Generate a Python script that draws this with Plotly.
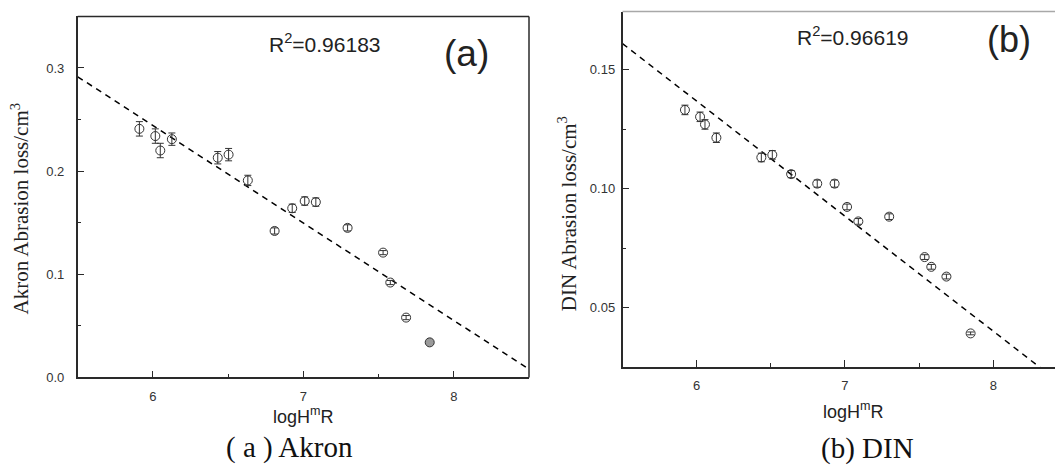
import plotly.graph_objects as go

# ---------------- data ----------------
# Panel (a) Akron
akron_x = [5.91, 6.016, 6.049, 6.126, 6.431, 6.503, 6.631, 6.809, 6.926, 7.009, 7.083, 7.294, 7.530, 7.578, 7.683, 7.840]
akron_y = [0.241, 0.234, 0.220, 0.231, 0.213, 0.216, 0.191, 0.142, 0.164, 0.171, 0.170, 0.145, 0.121, 0.092, 0.058, 0.034]
akron_err = [0.007, 0.007, 0.007, 0.006, 0.006, 0.006, 0.005, 0.003, 0.004, 0.004, 0.004, 0.003, 0.002, 0.002, 0.002, 0.001]
akron_fit_x = [5.5, 8.5]
akron_fit_y = [0.2915, 0.0080]
akron_r2 = "R<sup>2</sup>=0.96183"
akron_yticks = [0.0, 0.1, 0.2, 0.3]
akron_yticklabels = ["0.0", "0.1", "0.2", "0.3"]

# Panel (b) DIN
din_x = [5.921, 6.023, 6.056, 6.133, 6.436, 6.510, 6.637, 6.813, 6.930, 7.014, 7.090, 7.298, 7.537, 7.582, 7.684, 7.847]
din_y = [0.1331, 0.1302, 0.1270, 0.1214, 0.1131, 0.1142, 0.1061, 0.1021, 0.1021, 0.0923, 0.0862, 0.0882, 0.0712, 0.0671, 0.0630, 0.0391]
din_err = [0.002, 0.002, 0.002, 0.002, 0.0018, 0.0018, 0.0015, 0.0015, 0.0015, 0.0012, 0.0012, 0.0012, 0.001, 0.001, 0.001, 0.0006]
din_fit_x = [5.5, 8.5]
din_fit_y = [0.1610, 0.0158]
din_r2 = "R<sup>2</sup>=0.96619"
din_yticks = [0.05, 0.10, 0.15]
din_yticklabels = ["0.05", "0.10", "0.15"]

x_ticks = [6, 7, 8]
x_ticklabels = ["6", "7", "8"]
x_title = "logH<sup>m</sup>R"

# ---------------- figure ----------------
W, H = 1055, 468
SANS = "Liberation Sans, Arial, sans-serif"
SERIF = "Liberation Serif, Times New Roman, serif"
AX = "#2a2a2a"
MK = "#333333"
TICKC = "#333333"

def px(x):
    return x / W

def py(y):
    return 1 - y / H

A_X0, A_X1, A_Y0, A_Y1 = 77.7, 529, 384, 16.7
B_X0, B_Y0, B_Y1 = 622.5, 373.3, 11.7

fig = go.Figure()

# Panel (a)
fig.add_trace(go.Scatter(
    x=akron_fit_x, y=akron_fit_y, mode="lines",
    line=dict(color="black", width=1.5, dash="6px,5px"),
    xaxis="x", yaxis="y", showlegend=False, hoverinfo="skip"))
fill_a = ["rgba(0,0,0,0)"] * (len(akron_x) - 1) + ["#9a9a9a"]
fig.add_trace(go.Scatter(
    x=akron_x, y=akron_y, mode="markers",
    marker=dict(symbol="circle", size=9, color=fill_a, line=dict(color=MK, width=1)),
    error_y=dict(type="data", array=akron_err, visible=True, color=MK, thickness=1, width=3.5),
    xaxis="x", yaxis="y", showlegend=False))

# Panel (b)
fig.add_trace(go.Scatter(
    x=din_fit_x, y=din_fit_y, mode="lines",
    line=dict(color="black", width=1.5, dash="6px,5px"),
    xaxis="x2", yaxis="y2", showlegend=False, hoverinfo="skip"))
fig.add_trace(go.Scatter(
    x=din_x, y=din_y, mode="markers",
    marker=dict(symbol="circle-open", size=9, color=MK, line=dict(color=MK, width=1)),
    error_y=dict(type="data", array=din_err, visible=True, color=MK, thickness=1, width=3.5),
    xaxis="x2", yaxis="y2", showlegend=False))

tickfont = dict(family=SANS, size=13, color=TICKC)

common_x = dict(
    ticks="inside", ticklen=7, tickwidth=1.2, tickcolor=AX,
    showline=True, linecolor=AX, linewidth=1.5, showgrid=False, zeroline=False,
    tickmode="array", tickvals=x_ticks, ticktext=x_ticklabels, tickfont=tickfont,
    mirror=False, ticklabelstandoff=6,
    minor=dict(ticks="inside", ticklen=4, tickwidth=1.2, tickcolor=AX, dtick=0.5, tick0=0, showgrid=False),
)
common_y = dict(
    ticks="inside", ticklen=7, tickwidth=1.2, tickcolor=AX,
    showline=True, linecolor=AX, linewidth=1.5, showgrid=False, zeroline=False,
    tickfont=tickfont, mirror=False,
)

fig.update_layout(
    width=W, height=H,
    margin=dict(l=0, r=0, t=0, b=0),
    paper_bgcolor="white", plot_bgcolor="white",
    xaxis=dict(common_x, domain=[px(A_X0), px(A_X1)], range=[5.5, 8.5], anchor="y"),
    yaxis=dict(common_y, domain=[py(A_Y0), py(A_Y1)], range=[0, 0.35], anchor="x",
               tickmode="array", tickvals=akron_yticks, ticktext=akron_yticklabels,
               ticklabelstandoff=9,
               minor=dict(ticks="inside", ticklen=4, tickwidth=1.2, tickcolor=AX, dtick=0.05, tick0=0, showgrid=False)),
    xaxis2=dict(common_x, domain=[px(B_X0), 1.0], range=[5.5, 8.416], anchor="y2"),
    yaxis2=dict(common_y, domain=[py(B_Y0), py(B_Y1)], range=[0.025, 0.1745], anchor="x2",
                tickmode="array", tickvals=din_yticks, ticktext=din_yticklabels,
                ticklabelstandoff=3,
                minor=dict(ticks="inside", ticklen=4, tickwidth=1.2, tickcolor=AX, dtick=0.025, tick0=0, showgrid=False)),
    shapes=[
        # panel (a) top and right frame
        dict(type="line", xref="paper", yref="paper", x0=px(A_X0), x1=px(A_X1), y0=py(A_Y1), y1=py(A_Y1),
             line=dict(color=AX, width=1.5)),
        dict(type="line", xref="paper", yref="paper", x0=px(A_X1), x1=px(A_X1), y0=py(A_Y0), y1=py(A_Y1),
             line=dict(color=AX, width=1.5)),
        # panel (b) top frame (light)
        dict(type="line", xref="paper", yref="paper", x0=px(B_X0), x1=1.0, y0=py(B_Y1), y1=py(B_Y1),
             line=dict(color="#a8a8a8", width=1.5)),
    ],
)

ann = []
# x axis titles
ann.append(dict(text=x_title, x=px(303), y=py(423), xref="paper", yref="paper", showarrow=False,
                font=dict(family=SANS, size=18, color="#222"), xanchor="center", yanchor="middle"))
ann.append(dict(text=x_title, x=px(853), y=py(418), xref="paper", yref="paper", showarrow=False,
                font=dict(family=SANS, size=18, color="#222"), xanchor="center", yanchor="middle"))
# R^2 labels and panel letters
ann.append(dict(text=akron_r2, x=px(325), y=py(44), xref="paper", yref="paper", showarrow=False,
                font=dict(family=SANS, size=21, color="#222"), xanchor="center", yanchor="middle"))
ann.append(dict(text="(a)", x=px(466), y=py(54), xref="paper", yref="paper", showarrow=False,
                font=dict(family=SANS, size=37, color="#222"), xanchor="center", yanchor="middle"))
ann.append(dict(text=din_r2, x=px(852.5), y=py(37), xref="paper", yref="paper", showarrow=False,
                font=dict(family=SANS, size=21, color="#222"), xanchor="center", yanchor="middle"))
ann.append(dict(text="(b)", x=px(1009), y=py(40), xref="paper", yref="paper", showarrow=False,
                font=dict(family=SANS, size=36, color="#222"), xanchor="center", yanchor="middle"))
# y axis titles
ann.append(dict(text="Akron Abrasion loss/cm<sup>3</sup>", x=px(20), y=py(212), xref="paper", yref="paper",
                showarrow=False, textangle=-90,
                font=dict(family=SERIF, size=21, color="#222"), xanchor="center", yanchor="middle"))
ann.append(dict(text="DIN Abrasion loss/cm<sup>3</sup>", x=px(567), y=py(218), xref="paper", yref="paper",
                showarrow=False, textangle=-90,
                font=dict(family=SERIF, size=21, color="#222"), xanchor="center", yanchor="middle"))
# captions
ann.append(dict(text="( a ) Akron", x=px(289), y=py(455), xref="paper", yref="paper", showarrow=False,
                font=dict(family=SERIF, size=29, color="#111"), xanchor="center", yanchor="middle"))
ann.append(dict(text="(b) DIN", x=px(867.5), y=py(456), xref="paper", yref="paper", showarrow=False,
                font=dict(family=SERIF, size=29, color="#111"), xanchor="center", yanchor="middle"))
fig.update_layout(annotations=ann)

fig.write_html("out.html")
